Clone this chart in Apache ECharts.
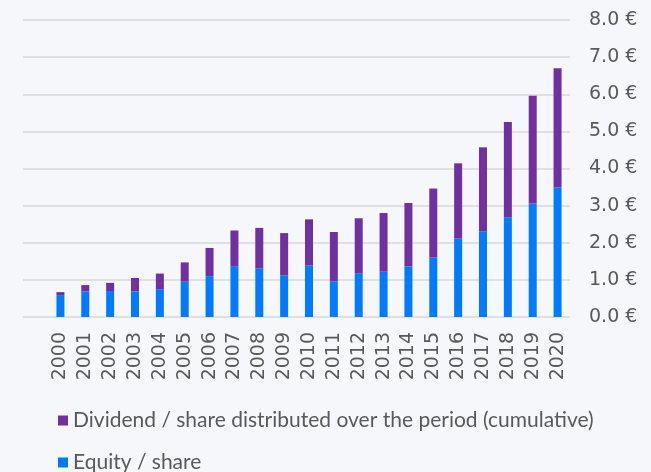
<!DOCTYPE html>
<html>
<head>
<meta charset="utf-8">
<script src="https://cdn.jsdelivr.net/npm/echarts@6/dist/echarts.min.js"></script>
<style>
  html, body { margin: 0; padding: 0; background: #f6f7fb; }
  #chart { width: 651px; height: 472px; }
</style>
</head>
<body>
<div id="chart"></div>
<script>
// data
const years = ['2000', '2001', '2002', '2003', '2004', '2005', '2006', '2007', '2008', '2009', '2010',
  '2011', '2012', '2013', '2014', '2015', '2016', '2017', '2018', '2019', '2020']
const equity = [0.59, 0.69, 0.70, 0.69, 0.75, 0.95, 1.10, 1.37, 1.31, 1.12, 1.39,
  0.96, 1.18, 1.22, 1.36, 1.60, 2.11, 2.31, 2.69, 3.06, 3.49]
const dividendCum = [0.08, 0.17, 0.22, 0.36, 0.42, 0.52, 0.76, 0.96, 1.09, 1.14, 1.24,
  1.33, 1.48, 1.58, 1.71, 1.86, 2.03, 2.26, 2.56, 2.90, 3.21]
const legendNames = ['Dividend / share distributed over the period (cumulative)', 'Equity / share']

const myChart = echarts.init(document.getElementById('chart'))

// one legend per row, stacked by hand
const legendRow = (name, top) => ({
  data: [name],
  left: 58,
  top: top,
  padding: 0,
  itemWidth: 10,
  itemHeight: 10,
  icon: 'rect',
  textStyle: { fontSize: 21, color: '#595959', fontFamily: 'Lato', lineHeight: 20 }
})

myChart.setOption({
  backgroundColor: '#f6f7fb',
  // grid 0 holds the bars, grid 1 is wider and only carries the gridlines + labels
  grid: [
    { left: 48, right: 81, top: 20, bottom: 155 },
    { left: 23, right: 81, top: 20, bottom: 155 }
  ],
  legend: [legendRow(legendNames[0], 410), legendRow(legendNames[1], 452)],
  xAxis: [
    {
      type: 'category',
      gridIndex: 0,
      data: years,
      axisLine: { show: false },
      axisTick: { show: false },
      axisLabel: { rotate: 90, margin: 15, fontSize: 19, color: '#595959', fontFamily: 'DejaVu Sans' }
    },
    { type: 'value', gridIndex: 1, show: false }
  ],
  yAxis: [
    { type: 'value', gridIndex: 0, min: 0, max: 8, interval: 1, show: false },
    {
      type: 'value',
      gridIndex: 1,
      position: 'right',
      min: 0,
      max: 8,
      interval: 1,
      axisLine: { show: false },
      axisTick: { show: false },
      splitLine: { lineStyle: { color: '#d9d9db', width: 1.5 } },
      axisLabel: {
        margin: 19,
        fontSize: 19,
        color: '#595959',
        fontFamily: 'DejaVu Sans',
        formatter: v => v.toFixed(1) + ' €'
      }
    }
  ],
  series: [
    {
      name: legendNames[1],
      type: 'bar',
      stack: 'total',
      barWidth: 8,
      itemStyle: { color: '#007bff' },
      data: equity
    },
    {
      name: legendNames[0],
      type: 'bar',
      stack: 'total',
      barWidth: 8,
      itemStyle: { color: '#7030a0' },
      data: dividendCum
    }
  ]
})
</script>
</body>
</html>
